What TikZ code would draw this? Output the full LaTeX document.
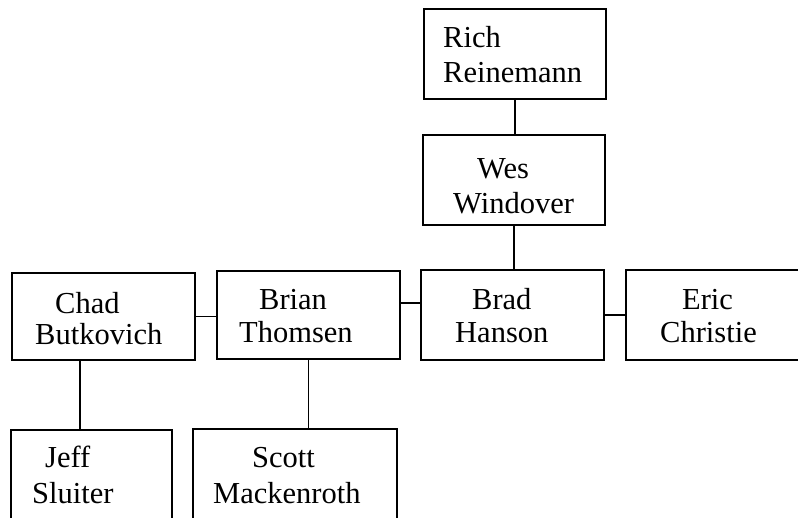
\documentclass[tikz,border=0pt]{standalone}
\usepackage{fontspec}
\setmainfont{Liberation Serif}
\begin{document}
\begin{tikzpicture}[x=1pt,y=-1pt,
  box/.style={draw=black,line width=1.7pt,rectangle,inner sep=0pt},
  lbl/.style={anchor=base west,inner sep=0pt,font=\fontsize{30.5}{35}\selectfont},
  conn/.style={draw=black,line width=1.7pt}]
\useasboundingbox (0,0) rectangle (798,517);
% boxes
\node[box,minimum width=182pt,minimum height=90pt] (rich) at (515,54) {};
\node[box,minimum width=182pt,minimum height=90pt] (wes) at (514,180) {};
\node[box,minimum width=183pt,minimum height=90pt] (brad) at (512.5,315) {};
\node[box,minimum width=182pt,minimum height=90pt] (eric) at (717,315) {};
\node[box,minimum width=183pt,minimum height=88pt] (brian) at (308.5,315) {};
\node[box,minimum width=183pt,minimum height=87pt] (chad) at (103.5,316.5) {};
\node[box,minimum width=161pt,minimum height=90pt] (jeff) at (91.5,475) {};
\node[box,minimum width=204pt,minimum height=90pt] (scott) at (295,474) {};
% labels
\node[lbl] (richa) at (443,47) {Rich};
\node[lbl] (richb) at (443,82) {Reinemann};
\node[lbl] (wesa) at (477,178) {Wes};
\node[lbl] (wesb) at (453,213) {Windover};
\node[lbl] (chada) at (55,313) {Chad};
\node[lbl] (chadb) at (35,344) {Butkovich};
\node[lbl] (briana) at (259,309) {Brian};
\node[lbl] (brianb) at (239,342) {Thomsen};
\node[lbl] (brada) at (472,309) {Brad};
\node[lbl] (bradb) at (455,342) {Hanson};
\node[lbl] (erica) at (682,309) {Eric};
\node[lbl] (ericb) at (660,342) {Christie};
\node[lbl] (jeffa) at (45,467) {Jeff};
\node[lbl] (jeffb) at (32,503) {Sluiter};
\node[lbl] (scotta) at (252,467) {Scott};
\node[lbl] (scottb) at (213,503) {Mackenroth};
% connectors
\draw[conn] (rich.south) -- (rich.south |- wes.north);
\draw[conn] (wes.south) -- (wes.south |- brad.north);
\draw[conn] ([yshift=12pt]brian.east) -- ([yshift=12pt]brad.west);
\draw[conn] (brad.east) -- (brad.east -| eric.west);
\draw[conn] (chad.east) -- (chad.east -| brian.west);
\draw[conn] ([xshift=-23.5pt]chad.south) -- ([xshift=-23.5pt]chad.south |- jeff.north);
\draw[conn] (brian.south) -- (brian.south |- scott.north);
\end{tikzpicture}
\end{document}
